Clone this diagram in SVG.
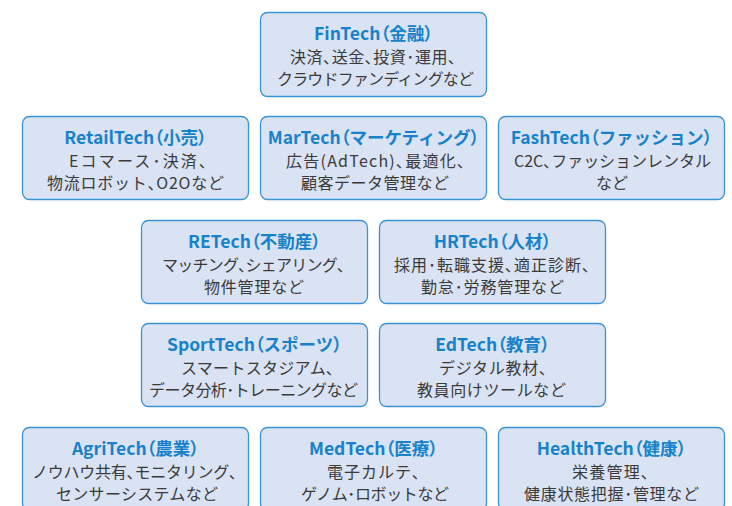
<svg xmlns="http://www.w3.org/2000/svg" width="732" height="506" viewBox="0 0 732 506">
<style>
.box{fill:#d9e3f3;stroke:#3a93d5;stroke-width:1.3}
.t{font-family:"Noto Sans CJK JP","Noto Sans",sans-serif;font-weight:700;font-size:17.5px;fill:#1782c9;text-anchor:middle}
.b{font-family:"Noto Sans CJK JP","Noto Sans",sans-serif;font-size:16px;fill:#3a3a3a}
.p{font-feature-settings:"palt"}
</style>
<rect width="732" height="506" fill="#ffffff"/>
<g id="fintech"><rect class="box" x="260.5" y="12.5" width="226" height="84" rx="7"/>
<text class="t" x="373.5" y="40">FinTech<tspan class="p">（</tspan>金融<tspan class="p">）</tspan></text>
<text class="b" x="290" y="63" textLength="166" lengthAdjust="spacing">決済<tspan class="p">、</tspan>送金<tspan class="p">、</tspan>投資･運用<tspan class="p">、</tspan></text>
<text class="b" x="277" y="85" textLength="197" lengthAdjust="spacing">クラウドファンディングなど</text></g>
<g id="retailtech"><rect class="box" x="22.5" y="116.5" width="226" height="83" rx="7"/>
<text class="t" x="135.5" y="144">RetailTech<tspan class="p">（</tspan>小売<tspan class="p">）</tspan></text>
<text class="b" x="69" y="167" textLength="138" lengthAdjust="spacing">Eコマース･決済<tspan class="p">、</tspan></text>
<text class="b" x="47" y="189" textLength="177" lengthAdjust="spacing">物流ロボット<tspan class="p">、</tspan>O2Oなど</text></g>
<g id="martech"><rect class="box" x="260.5" y="116.5" width="226" height="83" rx="7"/>
<text class="t" x="373.5" y="144">MarTech<tspan class="p">（</tspan>マーケティング<tspan class="p">）</tspan></text>
<text class="b" x="286" y="167" textLength="179" lengthAdjust="spacing">広告(AdTech)<tspan class="p">、</tspan>最適化<tspan class="p">、</tspan></text>
<text class="b" x="301" y="189" textLength="148" lengthAdjust="spacing">顧客データ管理など</text></g>
<g id="fashtech"><rect class="box" x="498.5" y="116.5" width="226" height="83" rx="7"/>
<text class="t" x="611.5" y="144">FashTech<tspan class="p">（</tspan>ファッション<tspan class="p">）</tspan></text>
<text class="b" x="514" y="167" textLength="197" lengthAdjust="spacing">C2C<tspan class="p">、</tspan>ファッションレンタル</text>
<text class="b" x="596" y="189">など</text></g>
<g id="retech"><rect class="box" x="141.5" y="220.5" width="226" height="83" rx="7"/>
<text class="t" x="254.5" y="248">RETech<tspan class="p">（</tspan>不動産<tspan class="p">）</tspan></text>
<text class="b" x="162" y="271" textLength="183" lengthAdjust="spacing">マッチング<tspan class="p">、</tspan>シェアリング<tspan class="p">、</tspan></text>
<text class="b" x="204" y="293" textLength="100" lengthAdjust="spacing">物件管理など</text></g>
<g id="hrtech"><rect class="box" x="379.5" y="220.5" width="226" height="83" rx="7"/>
<text class="t" x="492.5" y="248">HRTech<tspan class="p">（</tspan>人材<tspan class="p">）</tspan></text>
<text class="b" x="394" y="271" textLength="196" lengthAdjust="spacing">採用･転職支援<tspan class="p">、</tspan>適正診断<tspan class="p">、</tspan></text>
<text class="b" x="421" y="293" textLength="143" lengthAdjust="spacing">勤怠･労務管理など</text></g>
<g id="sporttech"><rect class="box" x="141.5" y="323.5" width="226" height="83" rx="7"/>
<text class="t" x="254.5" y="351">SportTech<tspan class="p">（</tspan>スポーツ<tspan class="p">）</tspan></text>
<text class="b" x="181" y="374" textLength="153" lengthAdjust="spacing">スマートスタジアム<tspan class="p">、</tspan></text>
<text class="b" x="149" y="396" textLength="209" lengthAdjust="spacing">データ分析･トレーニングなど</text></g>
<g id="edtech"><rect class="box" x="379.5" y="323.5" width="226" height="83" rx="7"/>
<text class="t" x="492.5" y="351">EdTech<tspan class="p">（</tspan>教育<tspan class="p">）</tspan></text>
<text class="b" x="439" y="374" textLength="108" lengthAdjust="spacing">デジタル教材<tspan class="p">、</tspan></text>
<text class="b" x="417" y="396" textLength="149" lengthAdjust="spacing">教員向けツールなど</text></g>
<g id="agritech"><rect class="box" x="22.5" y="427.5" width="226" height="83" rx="7"/>
<text class="t" x="135.5" y="455">AgriTech<tspan class="p">（</tspan>農業<tspan class="p">）</tspan></text>
<text class="b" x="32" y="478" textLength="205" lengthAdjust="spacing">ノウハウ共有<tspan class="p">、</tspan>モニタリング<tspan class="p">、</tspan></text>
<text class="b" x="56" y="500" textLength="162" lengthAdjust="spacing">センサーシステムなど</text></g>
<g id="medtech"><rect class="box" x="260.5" y="427.5" width="226" height="83" rx="7"/>
<text class="t" x="373.5" y="455">MedTech<tspan class="p">（</tspan>医療<tspan class="p">）</tspan></text>
<text class="b" x="327" y="478" textLength="93" lengthAdjust="spacing">電子カルテ<tspan class="p">、</tspan></text>
<text class="b" x="301" y="500" textLength="148" lengthAdjust="spacing">ゲノム･ロボットなど</text></g>
<g id="healthtech"><rect class="box" x="498.5" y="427.5" width="226" height="83" rx="7"/>
<text class="t" x="611.5" y="455">HealthTech<tspan class="p">（</tspan>健康<tspan class="p">）</tspan></text>
<text class="b" x="572" y="478" textLength="77" lengthAdjust="spacing">栄養管理<tspan class="p">、</tspan></text>
<text class="b" x="524" y="500" textLength="175" lengthAdjust="spacing">健康状態把握･管理など</text></g>
<g id="connectors"></g>
</svg>
